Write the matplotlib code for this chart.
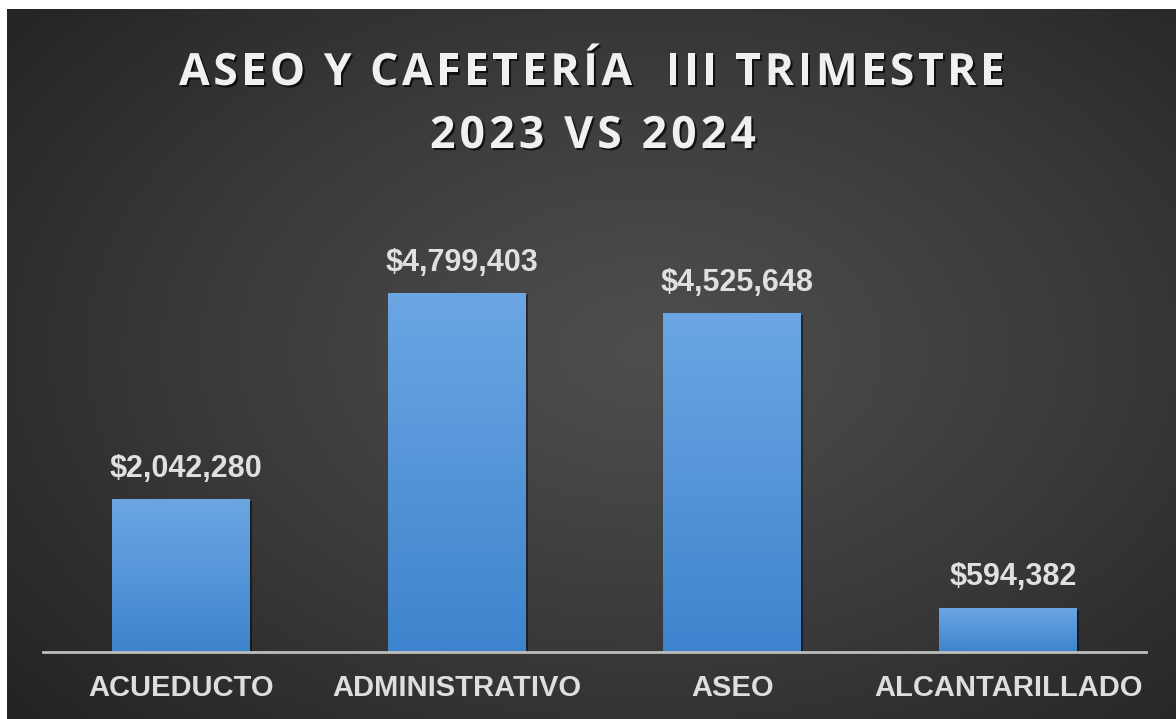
import numpy as np
import matplotlib
matplotlib.use("Agg")
import matplotlib.pyplot as plt
import matplotlib.patheffects as pe
from matplotlib.font_manager import FontProperties

categorias = ["ACUEDUCTO", "ADMINISTRATIVO", "ASEO", "ALCANTARILLADO"]
valores = [2042280, 4799403, 4525648, 594382]
titulo_1 = "ASEO Y CAFETERÍA  III TRIMESTRE"
titulo_2 = "2023 VS 2024"

W, H = 1176, 719
fig = plt.figure(figsize=(W / 100, H / 100), dpi=100)
fig.patch.set_facecolor("white")

# fondo oscuro con degradado radial
bg = fig.add_axes([7 / W, 0, 1 - 7 / W, 1 - 9 / H])
yy, xx = np.mgrid[0:1:400j, 0:1:600j]
r = np.sqrt(((xx - 0.55) / 0.72) ** 2 + ((yy - 0.52) / 0.78) ** 2)
r = np.clip(r, 0, 1)
c_in, c_out = 0x4d / 255, 0x23 / 255
g = c_in + (c_out - c_in) * r ** 1.2
bg.imshow(np.dstack([g, g, g]), aspect="auto", extent=[0, 1, 0, 1], origin="lower")
bg.axis("off")

# ejes del grafico
ax = fig.add_axes([43 / W, (H - 652) / H, (1146 - 43) / W, (652 - 203) / H])
ax.set_facecolor("none")
x = np.arange(len(categorias))
bars = ax.bar(x, valores, width=0.5, color="#4f92d8", zorder=2)

# degradado dentro de cada barra
grad = np.linspace(0, 1, 256).reshape(-1, 1)
top = np.array([0x6c, 0xa6, 0xe3]) / 255
bot = np.array([0x3d, 0x84, 0xce]) / 255
img = bot + (top - bot) * grad[..., None]
for b in bars:
    bx, by = b.get_x(), b.get_y()
    bw, bh = b.get_width(), b.get_height()
    b.set_path_effects([pe.SimplePatchShadow(offset=(1.5, -1.5), shadow_rgbFace="black", alpha=0.45),
                        pe.Normal()])
    im = ax.imshow(img, extent=[bx, bx + bw, by, by + bh], origin="lower",
                   aspect="auto", zorder=3)
    im.set_clip_path(b)
ax.set_xlim(-0.5, len(categorias) - 0.5)
ax.set_ylim(0, 6000000)

for s in ["top", "left", "right"]:
    ax.spines[s].set_visible(False)
ax.spines["bottom"].set_color("#bdbdbd")
ax.spines["bottom"].set_linewidth(2)
ax.spines["bottom"].set_zorder(4)
ax.set_yticks([])
ax.set_xticks(x)
ax.set_xticklabels(categorias, fontsize=21, fontweight="bold",
                   family="Liberation Sans", color="#dedede")
ax.tick_params(axis="x", length=0, pad=16)

for xi, v in zip(x, valores):
    ax.annotate(f"${v:,.0f}", (xi, v), xytext=(3.5, 16), textcoords="offset points",
                ha="center", va="baseline", fontsize=22, fontweight="bold",
                family="Liberation Sans", color="#e0e0e0", zorder=5)

# titulo con espaciado entre letras
sombra = [pe.withSimplePatchShadow(offset=(1.5, -1.5), shadow_rgbFace="black", alpha=0.7)]
fp = FontProperties(family="Open Sans", weight="bold", size=32)
renderer = fig.canvas.get_renderer()


def texto_espaciado(s, xc, yb, track):
    anchos = [renderer.get_text_width_height_descent(c, fp, ismath=False)[0] for c in s]
    total = sum(anchos) + track * (len(s) - 1)
    xpos = xc - total / 2
    for c, w in zip(s, anchos):
        if c != " ":
            fig.text(xpos / W, (H - yb) / H, c, ha="left", va="baseline",
                     fontproperties=fp, color="#f0f0f0", path_effects=sombra)
        xpos += w + track


texto_espaciado(titulo_1, 592, 85, 3.5)
texto_espaciado(titulo_2, 593, 148, 4.2)

fig.savefig("out.png", dpi=100)
